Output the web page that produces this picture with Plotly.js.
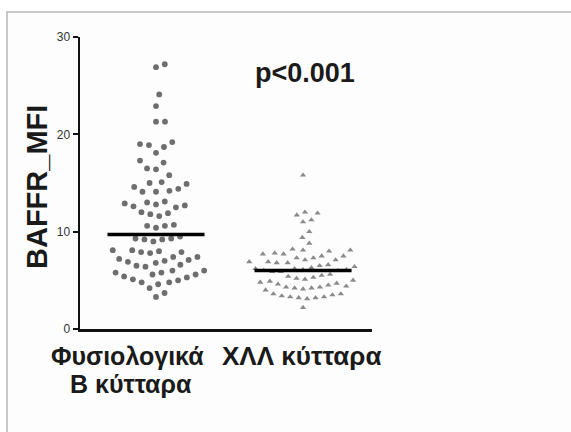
<!DOCTYPE html>
<html><head><meta charset="utf-8">
<script src="https://cdn.plot.ly/plotly-3.0.1.min.js"></script>
<style>
html,body{margin:0;padding:0;background:#fff;overflow:hidden;}
#frame{position:absolute;left:6px;top:11px;width:600px;height:450px;border-left:2px solid #c8c8c8;border-top:2px solid #c8c8c8;background:#fdfdfd;}
#chart{position:absolute;left:0;top:0;width:571px;height:432px;}
</style></head><body>
<div id="frame"></div>
<div id="chart"></div>
<script>
// ---- data ----
const categories = ["Φυσιολογικά", "Β κύτταρα", "ΧΛΛ κύτταρα"];
const normalB = [27.2, 26.9, 24.1, 22.9, 21.3, 21.3,
  19.2, 19.0, 18.9, 18.7, 18.1, 17.3, 17.1, 16.5, 16.4, 15.8,
  15.1, 14.9, 14.6, 14.2, 14.1, 14.1, 14.4, 15.0,
  13.1, 12.9, 12.7, 12.5, 12.6, 12.8, 13.0,
  12.0, 11.6, 11.9, 11.8,
  10.7, 10.6, 10.6, 10.4,
  9.5, 9.3, 9.2, 9.2, 9.3, 9.0,
  8.1, 8.0, 7.9, 7.8, 7.9, 8.1,
  7.4, 7.2, 7.0, 6.8, 6.5, 6.4, 6.6, 6.9, 7.1, 7.4,
  6.0, 5.8, 5.6, 5.3, 5.0, 4.8, 4.8, 5.1, 5.4, 5.6, 5.8, 6.0,
  4.6, 4.2, 3.7, 3.3];
const cllB = [15.8,
  12.0, 11.9, 11.7, 11.2, 11.0,
  10.0, 9.4, 8.8,
  8.2, 8.1, 8.1, 8.0,
  7.8, 7.7, 7.5, 7.3, 7.1, 6.9, 6.8, 6.8, 6.9, 7.1, 7.3, 7.5, 7.7,
  6.6, 6.5, 6.4, 6.3, 6.2, 6.2, 6.1, 6.1, 6.0, 6.0, 5.9, 5.9,
  5.6, 5.5, 5.4, 5.3, 5.2, 5.1, 5.0, 4.9, 4.8, 4.7, 4.6, 4.5,
  4.4, 4.3, 4.2, 4.1, 4.0, 4.2, 4.3,
  3.6, 3.4, 3.3, 3.2, 3.1, 3.2, 3.3, 3.5, 3.6,
  2.2];
const medians = [9.7, 6.0];
const yTicks = [0, 10, 20, 30];
const pLabel = "p&lt;0.001";
const yTitle = "BAFFR_MFI";

// ---- layout geometry ----
const W = 571, H = 432;
const margin = {l: 80, r: 199, t: 37, b: 103};
const xRange = [0.483, 2.469];
const yRange = [0, 30];
const plotW = W - margin.l - margin.r, plotH = H - margin.t - margin.b;
const pxX = plotW / (xRange[1] - xRange[0]);
const pxY = plotH / (yRange[1] - yRange[0]);
const px2xData = px => xRange[0] + (px - margin.l) / pxX;
const px2yPaper = py => (H - margin.b - py) / plotH;
const px2xPaper = px => (px - margin.l) / plotW;

// beeswarm offsets computed from the values (elliptical exclusion zone, in pixels)
function swarm(vals, center, sx, sy) {
  const order = vals.map((v, i) => i).sort((a, b) => vals[a] - vals[b]);
  const placed = [];
  const xs = new Array(vals.length);
  for (const i of order) {
    const y = vals[i] * pxY;
    const near = placed.filter(p => Math.abs(p.y - y) < sy);
    const cands = [0];
    near.forEach(p => {
      const dx = sx * Math.sqrt(Math.max(0, 1 - ((p.y - y) / sy) ** 2));
      cands.push(p.x + dx, p.x - dx);
    });
    cands.sort((a, b) => Math.abs(a) - Math.abs(b) || b - a);
    let chosen = 0;
    for (const c of cands) {
      if (near.every(p => ((p.x - c) / sx) ** 2 + ((p.y - y) / sy) ** 2 >= 1 - 1e-6)) { chosen = c; break; }
    }
    placed.push({x: chosen, y});
    xs[i] = center + chosen / pxX;
  }
  return xs;
}

const centers = [1, 2];
const halfLine = 0.33;
const traces = [
  {type: 'scatter', mode: 'markers', x: swarm(normalB, centers[0], 9, 12.5), y: normalB,
   marker: {symbol: 'circle', size: 5.8, color: '#6e6e6e'}, hoverinfo: 'y'},
  {type: 'scatter', mode: 'markers', x: swarm(cllB, centers[1], 8.5, 10), y: cllB,
   marker: {symbol: 'triangle-up', size: 5.5, color: '#8a8a8a'}, hoverinfo: 'y'},
];
medians.forEach((m, k) => traces.push({type: 'scatter', mode: 'lines',
  x: [centers[k] - halfLine, centers[k] + halfLine], y: [m, m],
  line: {color: '#000', width: 3.5}, hoverinfo: 'skip'}));

const fam = 'Liberation Sans, Arial, sans-serif';
const txt = size => ({family: fam, size: size, color: '#1a1a1a'});
const layout = {
  width: W, height: H, margin: margin, showlegend: false,
  paper_bgcolor: 'rgba(0,0,0,0)', plot_bgcolor: 'rgba(0,0,0,0)',
  xaxis: {range: xRange, showline: true, linecolor: '#111', linewidth: 2.5, showticklabels: false,
          ticks: '', showgrid: false, zeroline: false, fixedrange: true},
  yaxis: {range: yRange, tickvals: yTicks, ticks: 'outside', ticklen: 5, tickwidth: 2, tickcolor: '#111',
          showline: true, linecolor: '#111', linewidth: 2.5, showgrid: false, zeroline: false,
          tickfont: {family: 'Liberation Sans Narrow, Liberation Sans, sans-serif', size: 12, color: '#333'},
          fixedrange: true},
  annotations: [
    {text: '<b>' + pLabel + '</b>', xref: 'x', yref: 'paper', x: px2xData(305), y: px2yPaper(73), showarrow: false,
     font: txt(27), xanchor: 'center', yanchor: 'middle'},
    {text: '<b>' + yTitle + '</b>', xref: 'paper', yref: 'paper', x: px2xPaper(37), y: px2yPaper(187), textangle: -90,
     showarrow: false, font: txt(29), xanchor: 'center', yanchor: 'middle'},
    {text: '<b>' + categories[0] + '</b>', xref: 'paper', yref: 'paper', x: px2xPaper(127), y: px2yPaper(356),
     showarrow: false, font: txt(25), xanchor: 'center', yanchor: 'middle'},
    {text: '<b>' + categories[1] + '</b>', xref: 'paper', yref: 'paper', x: px2xPaper(131), y: px2yPaper(384),
     showarrow: false, font: txt(25), xanchor: 'center', yanchor: 'middle'},
    {text: '<b>' + categories[2] + '</b>', xref: 'paper', yref: 'paper', x: px2xPaper(301), y: px2yPaper(356),
     showarrow: false, font: txt(26), xanchor: 'center', yanchor: 'middle'}
  ]
};
Plotly.newPlot('chart', traces, layout, {displayModeBar: false, staticPlot: true});
</script>
</body></html>
